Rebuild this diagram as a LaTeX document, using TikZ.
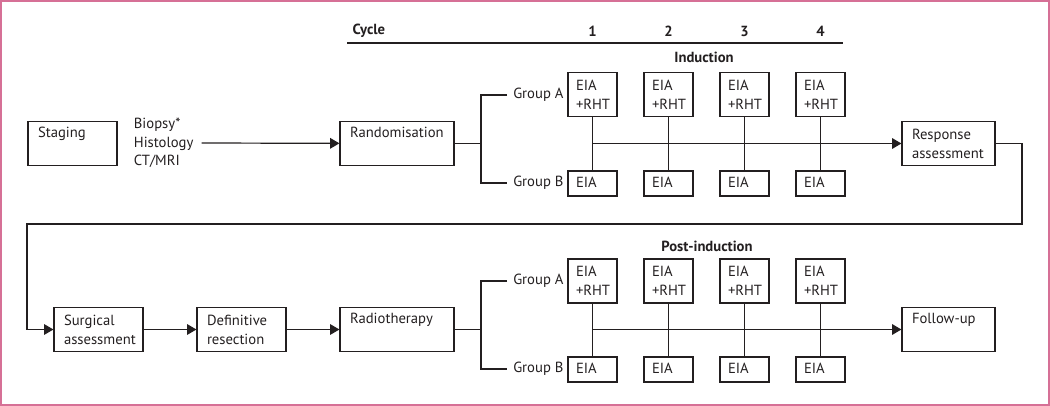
\documentclass[tikz,border=0pt]{standalone}
\usepackage{fontspec}
\setmainfont{PT Sans}
\usetikzlibrary{arrows.meta,positioning}
\definecolor{framepink}{RGB}{214,112,150}
\definecolor{inkgray}{RGB}{35,31,32}

\begin{document}
\begin{tikzpicture}[
    x=0.75pt, y=-0.75pt,
    every node/.style={font=\fontsize{11}{14.25}\selectfont, text=inkgray},
    line/.style={draw=inkgray, line width=0.9pt},
    arr/.style={line, -{Triangle[length=7pt,width=8pt]}},
    box/.style={
        rectangle,
        draw=inkgray,
        line width=0.9pt,
        align=left,
        inner xsep=7.5pt,
        inner ysep=0pt,
        text height=8pt,
        minimum height=33pt
    },
    oneline/.style={text depth=16.5pt},
    cell/.style={
        box,
        inner xsep=6pt,
        text width=24.75pt
    },
    cellb/.style={
        cell,
        minimum height=18.75pt,
        text depth=2.5pt
    },
    head/.style={font=\fontsize{11}{14.25}\selectfont\bfseries},
    group/.style={anchor=west, inner xsep=4.5pt}
]

% Frame
\useasboundingbox (0,0) rectangle (1050,406);
\draw[framepink, line width=1.1pt] (1,1) rectangle (1049,405);

% Cycle header
\node[head, anchor=west] (cycle) at (348,31) {Cycle};
\node[head] (c1) at (592.5,31) {1};
\node[head] (c2) at (668.5,31) {2};
\node[head] (c3) at (744.5,31) {3};
\node[head] (c4) at (820.5,31) {4};
\draw[line] (347,43) -- (843,43);

% Induction row
\node[box, oneline, text width=51.75pt] (staging) at (72.5,143.5) {Staging};
\node[anchor=west, align=left, inner xsep=2pt, font=\fontsize{11}{13.9}\selectfont] (tests) at (131,143) {Biopsy*\\Histology\\CT/MRI};
\node[box, oneline, text width=70.5pt] (rand) at (397,143.5) {Randomisation};
\node[box, text width=54.75pt] (resp) at (948.5,143.5) {Response\\assessment};

\node[head] (ind) at (704,57) {Induction};

\node[group] (ga1) at (507,95) {Group A};
\node[group] (gb1) at (507,183) {Group B};

\node[cell] (a1) at (592.5,94.5) {EIA\\+RHT};
\node[cell] (a2) at (668.5,94.5) {EIA\\+RHT};
\node[cell] (a3) at (744.5,94.5) {EIA\\+RHT};
\node[cell] (a4) at (820.5,94.5) {EIA\\+RHT};
\node[cellb] (b1) at (592.5,183.5) {EIA};
\node[cellb] (b2) at (668.5,183.5) {EIA};
\node[cellb] (b3) at (744.5,183.5) {EIA};
\node[cellb] (b4) at (820.5,183.5) {EIA};

% Induction connectors
\draw[arr] ([xshift=4pt]tests.east) -- (rand);
\draw[line] (rand.east) -- (481,143.5);
\draw[line] (ga1.west) -| (481,143.5) |- (gb1.west);
\draw[line] (a1) -- (b1);
\draw[line] (a2) -- (b2);
\draw[line] (a3) -- (b3);
\draw[line] (a4) -- (b4);
\draw[arr] (a1.south |- resp.west) -- (resp.west);

% Post-induction row
\node[box, text width=51.75pt] (surg) at (98.5,329.5) {Surgical\\assessment};
\node[box, text width=51.75pt] (defres) at (241.5,329.5) {Definitive\\resection};
\node[box, oneline, text width=70.5pt] (radio) at (397,329.5) {Radiotherapy};
\node[box, oneline, text width=54.75pt] (follow) at (948.5,329.5) {Follow-up};

\node[head] (post) at (707,246) {Post-induction};

\node[group] (ga2) at (507,281) {Group A};
\node[group] (gb2) at (507,369) {Group B};

\node[cell] (pa1) at (592.5,281) {EIA\\+RHT};
\node[cell] (pa2) at (668.5,281) {EIA\\+RHT};
\node[cell] (pa3) at (744.5,281) {EIA\\+RHT};
\node[cell] (pa4) at (820.5,281) {EIA\\+RHT};
\node[cellb] (pb1) at (592.5,369.5) {EIA};
\node[cellb] (pb2) at (668.5,369.5) {EIA};
\node[cellb] (pb3) at (744.5,369.5) {EIA};
\node[cellb] (pb4) at (820.5,369.5) {EIA};

% Back to surgery
\draw[arr] (resp.east) -| (1022,224) -| (27,329.5) -- (surg.west);

% Post-induction connectors
\draw[arr] (surg) -- (defres);
\draw[arr] (defres) -- (radio);
\draw[line] (radio.east) -- (481,329.5);
\draw[line] (ga2.west) -| (481,329.5) |- (gb2.west);
\draw[line] (pa1) -- (pb1);
\draw[line] (pa2) -- (pb2);
\draw[line] (pa3) -- (pb3);
\draw[line] (pa4) -- (pb4);
\draw[arr] (pa1.south |- follow.west) -- (follow.west);

\end{tikzpicture}
\end{document}
